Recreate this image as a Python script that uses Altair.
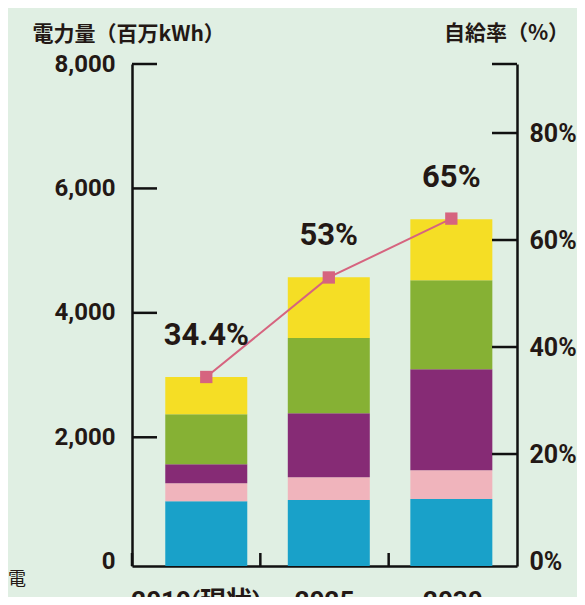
import altair as alt
import pandas as pd

# ---------------- data ----------------
years = ["2019(現状)", "2025", "2030"]
segments = ["系列1", "系列2", "系列3", "系列4", "系列5"]  # bottom -> top
seg1 = [973, 990, 1006]     # blue
seg2 = [290, 369, 465]      # pink
seg3 = [305, 1028, 1623]    # purple
seg4 = [803, 1210, 1430]    # green
seg5 = [599, 975, 980]      # yellow
seg_values = [seg1, seg2, seg3, seg4, seg5]

rates = [34.4, 53, 64]
rate_labels = ["34.4%", "53%", "65%"]

left_ticks = [0, 2000, 4000, 6000, 8000]
right_ticks = [0, 20, 40, 60, 80]

# ---------------- styling ----------------
seg_colors = ["#19a1c9", "#f0b4bc", "#862b75", "#86b134", "#f5de25"]
PINK = "#d6647f"
BG = "#e0efe3"
INK = "#231815"
AXIS = "#111111"
FONT_NUM = "Roboto, 'Noto Sans CJK JP', sans-serif"
FONT_JP = "'Noto Sans CJK JP', sans-serif"

W, H = 385, 502
L_MIN, L_MAX = -69, 8000
R_MIN, R_MAX = -0.93, 92.9

left_scale = alt.Scale(domain=[L_MIN, L_MAX], nice=False, zero=False)
right_scale = alt.Scale(domain=[R_MIN, R_MAX], nice=False, zero=False)
x_data_scale = alt.Scale(domain=years, range=[13, 380.6], paddingInner=0, paddingOuter=0)
x_frame_scale = alt.Scale(domain=years, range=[0, W], paddingInner=0, paddingOuter=0)

# ---------------- tables ----------------
rows = []
for i, yr in enumerate(years):
    cum = 0
    for j, (s, vals) in enumerate(zip(segments, seg_values)):
        start = L_MIN if j == 0 else cum
        cum += vals[i]
        rows.append({"year": yr, "seg": s, "y0": start, "y1": cum})
bar_df = pd.DataFrame(rows)
rate_df = pd.DataFrame({"year": years, "rate": rates, "label": rate_labels})

# ---------------- layers ----------------
left_axis = alt.Axis(
    values=left_ticks, labelExpr="format(datum.value, ',.0f')", ticks=False, grid=False,
    domain=True, domainColor=AXIS, domainWidth=2.5, labelFont=FONT_NUM, labelFontSize=24,
    labelFontWeight="bold", labelColor=INK, labelPadding=17, labelFlush=False,
    labelOverlap=False, title="電力量（百万kWh）", titleAngle=0, titleAlign="left",
    titleBaseline="middle", titleX=-100, titleY=-30, titleFont=FONT_JP,
    titleFontSize=21, titleFontWeight="bold", titleColor=INK,
)
right_axis = alt.Axis(
    orient="right", values=right_ticks, labelExpr="datum.value + '%'", ticks=False,
    grid=False, domain=True, domainColor=AXIS, domainWidth=2.5, labelFont=FONT_NUM,
    labelFontSize=25, labelFontWeight="bold", labelColor=INK, labelPadding=12,
    labelFlush=False, labelOverlap=False, title="自給率（%）", titleAngle=0,
    titleAlign="center", titleBaseline="middle", titleX=-11, titleY=-31,
    titleFont=FONT_JP, titleFontSize=21, titleFontWeight="bold", titleColor=INK,
)
x_axis = alt.Axis(
    orient="bottom", ticks=False, grid=False, domain=True, domainColor=AXIS,
    domainWidth=2.5, labelFont=FONT_NUM, labelFontSize=26, labelFontWeight="bold",
    labelColor=INK, labelPadding=22, labelAngle=0, bandPosition=0.5, title=None,
)

bars = alt.Chart(bar_df).mark_bar(width=82).encode(
    x=alt.X("year:N", scale=x_data_scale, sort=years, axis=None),
    y=alt.Y("y0:Q", scale=left_scale, axis=left_axis),
    y2="y1:Q",
    color=alt.Color("seg:N", scale=alt.Scale(domain=segments, range=seg_colors), legend=None),
)

x_ticks = alt.Chart(pd.DataFrame({"year": years})).mark_rule(color=AXIS, strokeWidth=2.5).encode(
    x=alt.X("year:N", bandPosition=0, scale=x_frame_scale, sort=years, axis=x_axis),
    y=alt.value(H - 13),
    y2=alt.value(H),
)

left_tick_rules = alt.Chart(pd.DataFrame({"v": left_ticks[1:]})).mark_rule(
    color=AXIS, strokeWidth=2.5
).encode(
    y=alt.Y("v:Q", scale=left_scale, axis=None),
    x=alt.value(0),
    x2=alt.value(25),
)

right_tick_rules = alt.Chart(pd.DataFrame({"v": right_ticks[1:] + [R_MAX]})).mark_rule(
    color=AXIS, strokeWidth=2.5
).encode(
    y=alt.Y("v:Q", scale=right_scale, axis=None),
    x=alt.value(W - 25),
    x2=alt.value(W),
)

line = alt.Chart(rate_df).mark_line(color=PINK, strokeWidth=2).encode(
    x=alt.X("year:N", scale=x_data_scale, sort=years, axis=None),
    y=alt.Y("rate:Q", scale=right_scale, axis=right_axis),
)

points = alt.Chart(rate_df).mark_point(
    shape="square", filled=True, size=152, color=PINK, opacity=1
).encode(
    x=alt.X("year:N", scale=x_data_scale, sort=years, axis=None),
    y=alt.Y("rate:Q", scale=right_scale, axis=None),
)

labels = alt.Chart(rate_df).mark_text(
    dy=-41, font=FONT_NUM, fontSize=31, fontWeight="bold", color=INK
).encode(
    x=alt.X("year:N", scale=x_data_scale, sort=years, axis=None),
    y=alt.Y("rate:Q", scale=right_scale, axis=None),
    text="label:N",
)

corner = alt.Chart(pd.DataFrame({"t": ["電"]})).mark_text(
    font=FONT_JP, fontSize=18, color=INK, align="left", baseline="middle"
).encode(
    text="t:N",
    x=alt.value(-124),
    y=alt.value(516),
)

chart = alt.layer(
    bars, x_ticks, left_tick_rules, right_tick_rules, line, points, labels, corner
).resolve_scale(
    x="independent", y="independent"
).properties(
    width=W, height=H,
    autosize=alt.AutoSizeParams(type="none"),
    padding={"left": 124, "top": 56, "right": 60, "bottom": 31},
    background=BG,
).configure_view(stroke=None)

chart.save("out.html", embed_options={"renderer": "svg", "actions": False})
